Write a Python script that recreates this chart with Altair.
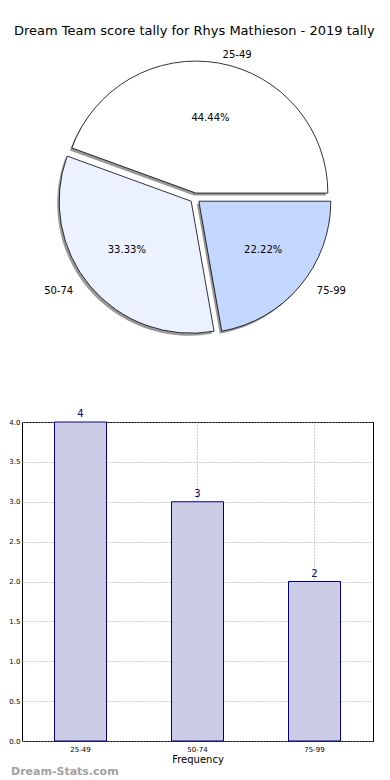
import altair as alt
import pandas as pd

# ---- data ----
categories = ["25-49", "50-74", "75-99"]
counts = [4, 3, 2]
pie_order = [3, 2, 1]          # clockwise from 3 o'clock: 75-99, 50-74, 25-49
slice_colors = ["#FFFFFF", "#EBF1FF", "#C4D8FF"]
y_ticks = [0.0, 0.5, 1.0, 1.5, 2.0, 2.5, 3.0, 3.5, 4.0]
title_text = "Dream Team score tally for Rhys Mathieson - 2019 tally"
watermark = ["Dream-Stats.com"]

# ---- layout parameters ----
CX, CY, R, RX, RY, EXP = 173, 156, 132, 140, 127, 5
W, H_PIE, H_BAR = 351, 380, 319
FONT = "DejaVu Sans"

pie_df = pd.DataFrame({"cat": categories, "count": counts, "ord": pie_order, "color": slice_colors})
bar_df = pd.DataFrame({"cat": categories, "count": counts})

pie_base = (
    alt.Chart(pie_df)
    .transform_window(cum="sum(count)", sort=[alt.SortField("ord")])
    .transform_joinaggregate(total="sum(count)")
    .transform_calculate(
        t0="PI/2 + 2*PI*(datum.cum - datum.count)/datum.total",
        t1="PI/2 + 2*PI*datum.cum/datum.total",
    )
    .transform_calculate(tm="(datum.t0 + datum.t1)/2")
    .transform_calculate(
        px=f"{CX} + {EXP}*sin(datum.tm)",
        py=f"{CY} - {EXP}*cos(datum.tm)",
    )
    .transform_calculate(
        sx="datum.px - 2",
        sy="datum.py + 2.5",
        lx=f"datum.px + 1.1*{RX}*sin(datum.tm)",
        ly=f"datum.py - 1.1*{RY}*cos(datum.tm)",
        qx=f"datum.px + 0.6*{RX}*sin(datum.tm)",
        qy=f"datum.py - 0.6*{RY}*cos(datum.tm)",
        pct="format(100*datum.count/datum.total, '.2f') + '%'",
        side="sin(datum.tm) > 0 ? 'r' : 'l'",
    )
)

shadow = pie_base.mark_arc(radius=R, color="#777777", opacity=0.75).encode(
    x=alt.X("sx:Q", scale=None),
    y=alt.Y("sy:Q", scale=None),
    theta=alt.Theta("t0:Q", scale=None),
    theta2="t1:Q",
)
slices = pie_base.mark_arc(radius=R, stroke="black", strokeWidth=0.8).encode(
    x=alt.X("px:Q", scale=None),
    y=alt.Y("py:Q", scale=None),
    theta=alt.Theta("t0:Q", scale=None),
    theta2="t1:Q",
    fill=alt.Fill("color:N", scale=None),
)
pct_text = pie_base.mark_text(font=FONT, fontSize=10, color="black").encode(
    x=alt.X("qx:Q", scale=None), y=alt.Y("qy:Q", scale=None), text="pct:N"
)
lab_r = pie_base.transform_filter("datum.side == 'r'").mark_text(
    font=FONT, fontSize=10, color="black", align="left"
).encode(x=alt.X("lx:Q", scale=None), y=alt.Y("ly:Q", scale=None), text="cat:N")
lab_l = pie_base.transform_filter("datum.side == 'l'").mark_text(
    font=FONT, fontSize=10, color="black", align="right"
).encode(x=alt.X("lx:Q", scale=None), y=alt.Y("ly:Q", scale=None), text="cat:N")

pie = alt.layer(shadow, slices, pct_text, lab_r, lab_l).properties(
    width=W,
    height=H_PIE,
    title=alt.TitleParams(
        title_text, font=FONT, fontSize=13, fontWeight="normal", anchor="start", dx=-8,
        offset=4, color="black"
    ),
)

xenc = alt.X(
    "cat:N",
    scale=alt.Scale(paddingInner=0, paddingOuter=0),
    axis=alt.Axis(
        title="Frequency", labelAngle=0, labelFontSize=7, labelFont=FONT, titleFont=FONT,
        titleFontSize=10, titleFontWeight="normal", titlePadding=2, grid=True, gridDash=[1, 2],
        gridColor="#a0a0a0", bandPosition=0.5, ticks=False, domain=False, labelPadding=4,
        labelColor="black", titleColor="black",
    ),
)
yenc = alt.Y(
    "count:Q",
    scale=alt.Scale(domain=[0, 4], nice=False),
    axis=alt.Axis(
        title=None, values=y_ticks, format=".1f", labelFontSize=7, labelFont=FONT, grid=True,
        gridDash=[1, 2], gridColor="#a0a0a0", ticks=False, domain=False, labelPadding=2,
        labelColor="black", labelOverlap=False, labelFlush=False,
    ),
)
bar_base = alt.Chart(bar_df).encode(x=xenc, y=yenc)
bars = bar_base.mark_bar(size=52, fill="#CCCCE6", stroke="#000080", strokeWidth=1)
bar_text = bar_base.mark_text(dy=-8, font=FONT, fontSize=10, color="#000080").encode(text="count:Q")
wm = alt.Chart(pd.DataFrame({"t": watermark})).mark_text(
    font=FONT, fontSize=11, fontWeight="bold", color="#a0a0a0", align="left"
).encode(x=alt.value(-11), y=alt.value(H_BAR + 31), text="t:N")

bar_chart = alt.layer(bars, bar_text, wm).properties(
    width=W, height=H_BAR, view=alt.ViewBackground(stroke="black", strokeWidth=1)
)

chart = (
    alt.vconcat(pie, bar_chart, spacing=0, bounds="flush")
    .properties(padding={"top": 16, "left": 0, "right": 0, "bottom": 0})
    .configure_view(stroke="transparent")
)

chart.save("out.html", embed_options={"renderer": "svg", "actions": False})
